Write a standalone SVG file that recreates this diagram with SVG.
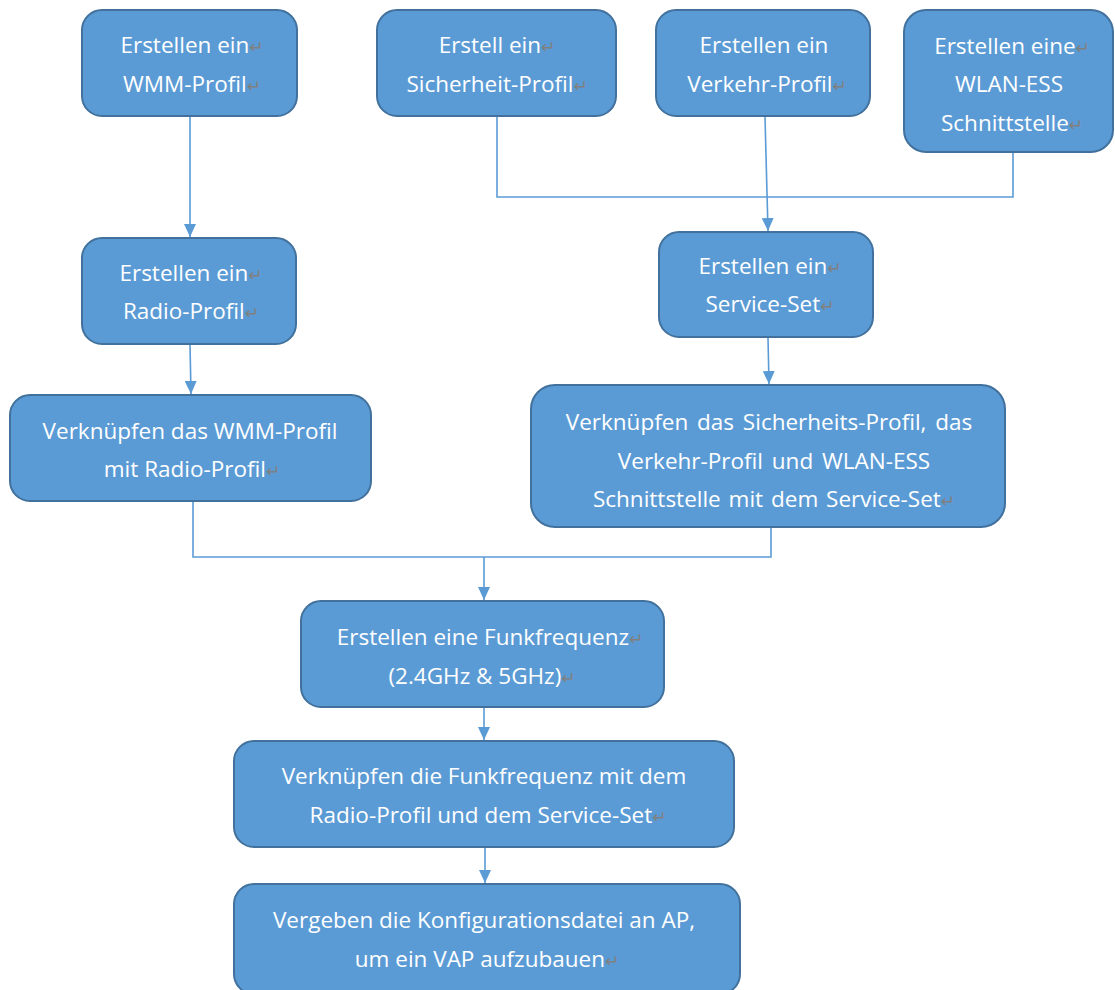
<svg xmlns="http://www.w3.org/2000/svg" width="1115" height="990" viewBox="0 0 1115 990">
<style>
.box{fill:#5B9BD5;stroke:#41719C;stroke-width:2}
.t{font-family:"Open Sans","Liberation Sans",sans-serif;font-size:22.5px;fill:#FFFFFF;text-anchor:middle}
.r{fill:#808080;font-size:17px;font-family:"DejaVu Sans",sans-serif}
.c{fill:none;stroke:#5B9BD5;stroke-width:1.6}
.a{fill:none;stroke:#5B9BD5;stroke-width:1.6;marker-end:url(#ar)}
</style>
<defs>
<marker id="ar" markerWidth="13" markerHeight="12" refX="13" refY="6" orient="auto" markerUnits="userSpaceOnUse" viewBox="0 0 13 12">
<path d="M0,0 L13,6 L0,12 Z" fill="#5B9BD5"/>
</marker>
</defs>
<rect width="1115" height="990" fill="#FFFFFF"/>
<g id="connectors">
<path class="a" d="M190,117 L190,237"/>
<path class="a" d="M190,345 L191,394"/>
<path class="c" d="M497,117 L497,197 L1013,197 L1013,153"/>
<path class="a" d="M765,117 L768,231"/>
<path class="a" d="M768,338 L769,384"/>
<path class="c" d="M193,502 L193,557 L771,557 L771,528"/>
<path class="a" d="M484,557 L484,600"/>
<path class="a" d="M484,708 L484,740"/>
<path class="a" d="M485,848 L485,883"/>
</g>
<g id="n1"><rect class="box" x="82" y="10" width="215" height="106" rx="20"/>
<text class="t" x="192" y="53">Erstellen ein<tspan class="r">↵</tspan></text>
<text class="t" x="192" y="92">WMM-Profil<tspan class="r">↵</tspan></text></g>
<g id="n2"><rect class="box" x="377" y="10" width="239" height="106" rx="20"/>
<text class="t" x="497" y="53">Erstell ein<tspan class="r">↵</tspan></text>
<text class="t" x="497" y="92">Sicherheit-Profil<tspan class="r">↵</tspan></text></g>
<g id="n3"><rect class="box" x="656" y="10" width="214" height="106" rx="20"/>
<text class="t" x="764" y="53">Erstellen ein</text>
<text class="t" x="767" y="92">Verkehr-Profil<tspan class="r">↵</tspan></text></g>
<g id="n4"><rect class="box" x="904" y="10" width="209" height="142" rx="22"/>
<text class="t" x="1012" y="54">Erstellen eine<tspan class="r">↵</tspan></text>
<text class="t" x="1009" y="92">WLAN-ESS</text>
<text class="t" x="1012" y="131">Schnittstelle<tspan class="r">↵</tspan></text></g>
<g id="n5"><rect class="box" x="82" y="238" width="214" height="106" rx="20"/>
<text class="t" x="191" y="281">Erstellen ein<tspan class="r">↵</tspan></text>
<text class="t" x="191" y="319">Radio-Profil<tspan class="r">↵</tspan></text></g>
<g id="n6"><rect class="box" x="659" y="232" width="214" height="105" rx="20"/>
<text class="t" x="770" y="274">Erstellen ein<tspan class="r">↵</tspan></text>
<text class="t" x="770" y="312">Service-Set<tspan class="r">↵</tspan></text></g>
<g id="n7"><rect class="box" x="10" y="395" width="361" height="106" rx="20"/>
<text class="t" x="190" y="439">Verknüpfen das WMM-Profil</text>
<text class="t" x="192" y="477">mit Radio-Profil<tspan class="r">↵</tspan></text></g>
<g id="n8"><rect class="box" x="531" y="385" width="474" height="142" rx="24"/>
<text class="t" x="769" y="430" word-spacing="3">Verknüpfen das Sicherheits-Profil, das</text>
<text class="t" x="774" y="469" word-spacing="3">Verkehr-Profil und WLAN-ESS</text>
<text class="t" x="774" y="507" word-spacing="2">Schnittstelle mit dem Service-Set<tspan class="r">↵</tspan></text></g>
<g id="n9"><rect class="box" x="301" y="601" width="363" height="106" rx="20"/>
<text class="t" x="490" y="645">Erstellen eine Funkfrequenz<tspan class="r">↵</tspan></text>
<text class="t" x="482" y="684">(2.4GHz &amp; 5GHz)<tspan class="r">↵</tspan></text></g>
<g id="n10"><rect class="box" x="234" y="741" width="500" height="106" rx="20"/>
<text class="t" x="484" y="784">Verknüpfen die Funkfrequenz mit dem</text>
<text class="t" x="488" y="823">Radio-Profil und dem Service-Set<tspan class="r">↵</tspan></text></g>
<g id="n11"><rect class="box" x="234" y="884" width="506" height="110" rx="20"/>
<text class="t" x="484" y="928">Vergeben die Konfigurationsdatei an AP,</text>
<text class="t" x="487" y="967">um ein VAP aufzubauen<tspan class="r">↵</tspan></text></g>
</svg>
